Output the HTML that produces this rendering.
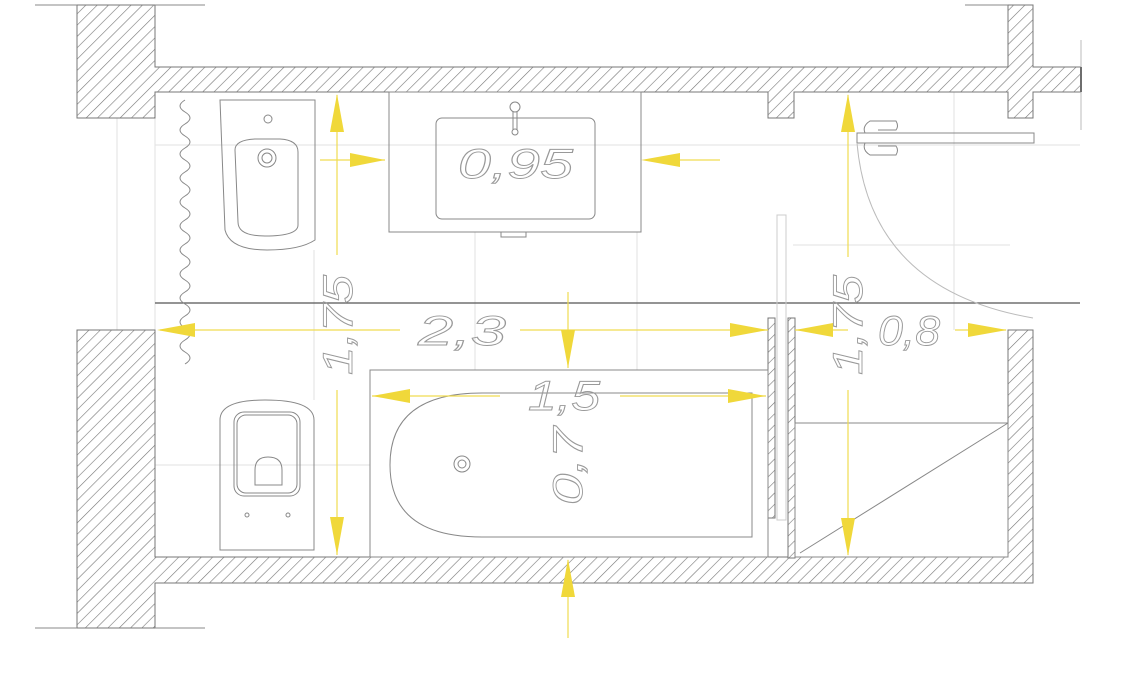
<!DOCTYPE html>
<html><head><meta charset="utf-8"><style>html,body{margin:0;padding:0;background:#fff}svg{display:block}</style></head><body>
<svg width="1140" height="680" viewBox="0 0 1140 680" xmlns="http://www.w3.org/2000/svg">
<defs>
<pattern id="h" patternUnits="userSpaceOnUse" width="8" height="8" patternTransform="rotate(45)">
<rect width="8" height="8" fill="#fff"/><line x1="0" y1="0" x2="0" y2="8" stroke="#777" stroke-width="1.2"/>
</pattern>
</defs>
<g stroke="#e2e2e2" stroke-width="1" fill="none">
<line x1="155" y1="145" x2="1080" y2="145"/>
<line x1="155" y1="465" x2="370" y2="465"/>
<line x1="793" y1="245" x2="1010" y2="245"/>
<line x1="475" y1="232" x2="475" y2="370"/>
<line x1="637" y1="232" x2="637" y2="370"/>
<line x1="954" y1="92" x2="954" y2="330"/>
<line x1="314" y1="250" x2="314" y2="400"/>
<line x1="155" y1="118" x2="155" y2="330"/>
<line x1="117" y1="118" x2="117" y2="330"/>
</g>
<g fill="url(#h)" stroke="#777" stroke-width="1">
<path d="M77 5 H155 V67 H1008 V5 H1033 V67 H1081 V92 H1033 V118 H1008 V92 H794 V118 H768 V92 H155 V118 H77 Z"/>
<path d="M77 330 H155 V557 H1008 V330 H1033 V583 H155 V628 H77 Z"/>
<rect x="768" y="318" width="7" height="200"/>
<rect x="788" y="318" width="7" height="240"/>
</g>
<line x1="1081" y1="67" x2="1081" y2="92" stroke="#222" stroke-width="2"/>
<g stroke="#888" stroke-width="1" fill="none">
<line x1="35" y1="5" x2="77" y2="5"/><line x1="155" y1="5" x2="205" y2="5"/>
<line x1="35" y1="628" x2="77" y2="628"/><line x1="155" y1="628" x2="205" y2="628"/>
<line x1="965" y1="5" x2="1008" y2="5"/>
<line x1="1081" y1="40" x2="1081" y2="130" stroke="#bbb"/>
</g>
<line x1="155" y1="303" x2="1080" y2="303" stroke="#555" stroke-width="1.3"/>
<g stroke="#888" stroke-width="1" fill="none">
<path d="M185 100 q-10 6 0 12 q10 6 0 12 q-10 6 0 12 q10 6 0 12 q-10 6 0 12 q10 6 0 12 q-10 6 0 12 q10 6 0 12 q-10 6 0 12 q10 6 0 12 q-10 6 0 12 q10 6 0 12 q-10 6 0 12 q10 6 0 12 q-10 6 0 12 q10 6 0 12 q-10 6 0 12 q10 6 0 12 q-10 6 0 12 q10 6 0 12 q-10 6 0 12 q10 6 0 12"/>
<path d="M220 100 H315 V240 Q300 250 267 250 Q230 250 225 230 Z"/>
<path d="M235 150 Q235 140 255 139 H280 Q298 140 298 152 V225 Q298 236 265 236 Q238 236 238 222 Z"/>
<circle cx="267" cy="158" r="9"/><circle cx="267" cy="158" r="5"/><circle cx="268" cy="119" r="4"/>
<rect x="389" y="92" width="252" height="140"/>
<rect x="436" y="118" width="159" height="101" rx="6"/>
<rect x="501" y="232" width="25" height="5"/>
<circle cx="515" cy="107" r="5"/><line x1="513" y1="112" x2="513" y2="130"/><line x1="517" y1="112" x2="517" y2="130"/><circle cx="515" cy="132" r="3"/>
<path d="M220 420 Q220 400 265 400 Q314 400 314 420 V550 H220 Z"/>
<rect x="234" y="412" width="66" height="84" rx="10"/>
<rect x="237" y="415" width="60" height="78" rx="9"/>
<path d="M255 485 V470 Q255 457 268 457 Q282 457 282 470 V485 Z"/>
<circle cx="247" cy="515" r="2"/><circle cx="288" cy="515" r="2"/>
<rect x="370" y="370" width="398" height="187"/>
<path d="M482 393 H752 V537 H482 Q390 537 390 465 Q390 393 482 393 Z"/>
<circle cx="462" cy="464" r="8"/><circle cx="462" cy="464" r="4"/>
<rect x="777" y="215" width="9" height="305" stroke="#ccc"/>
<rect x="795" y="423" width="213" height="134"/>
<line x1="1008" y1="423" x2="800" y2="553"/>
<rect x="857" y="133" width="177" height="10"/>
<path d="M884 133 H865 Q862 126 870 121 H896 Q899 126 896 130 H878" />
<path d="M884 143 H865 Q862 150 870 155 H896 Q899 150 896 146 H878" />
<path d="M857 143 Q870 290 1033 318" stroke="#bbb"/>
</g>
<g stroke="#f0dc50" stroke-width="1.2" fill="none">
<line x1="320" y1="160" x2="385" y2="160"/><line x1="650" y1="160" x2="720" y2="160"/>
<line x1="337" y1="95" x2="337" y2="255"/><line x1="337" y1="390" x2="337" y2="555"/>
<line x1="160" y1="330" x2="400" y2="330"/><line x1="520" y1="330" x2="768" y2="330"/>
<line x1="568" y1="292" x2="568" y2="368"/><line x1="568" y1="560" x2="568" y2="638"/>
<line x1="372" y1="396" x2="500" y2="396"/><line x1="620" y1="396" x2="766" y2="396"/>
<line x1="848" y1="95" x2="848" y2="257"/><line x1="848" y1="390" x2="848" y2="555"/>
<line x1="795" y1="330" x2="848" y2="330"/><line x1="955" y1="330" x2="1006" y2="330"/>
</g>
<g fill="#f0d83a">
<polygon points="385,160 350,153 350,167"/><polygon points="641,160 680,153 680,167"/>
<polygon points="337,94 330,132 344,132"/><polygon points="337,555 330,517 344,517"/>
<polygon points="157,330 195,323 195,337"/><polygon points="768,330 730,323 730,337"/>
<polygon points="568,368 561,330 575,330"/><polygon points="568,559 561,597 575,597"/>
<polygon points="372,396 410,389 410,403"/><polygon points="766,396 728,389 728,403"/>
<polygon points="848,94 841,132 855,132"/><polygon points="848,556 841,518 855,518"/>
<polygon points="795,330 833,323 833,337"/><polygon points="1007,330 968,323 968,337"/>
</g>
<g font-family="Liberation Sans, sans-serif" font-style="italic" font-size="42" fill="none" stroke="#999" stroke-width="0.9">
<text x="458" y="178" textLength="115" lengthAdjust="spacingAndGlyphs">0,95</text>
<text x="418" y="345" textLength="88" lengthAdjust="spacingAndGlyphs">2,3</text>
<text x="528" y="410" textLength="72" lengthAdjust="spacingAndGlyphs">1,5</text>
<text x="878" y="345" textLength="62" lengthAdjust="spacingAndGlyphs">0,8</text>
<text transform="translate(352,375) rotate(-90)" textLength="100" lengthAdjust="spacingAndGlyphs">1,75</text>
<text transform="translate(862,375) rotate(-90)" textLength="100" lengthAdjust="spacingAndGlyphs">1,75</text>
<text transform="translate(582,505) rotate(-90)" textLength="78" lengthAdjust="spacingAndGlyphs">0,7</text>
</g>
</svg>
</body></html>
